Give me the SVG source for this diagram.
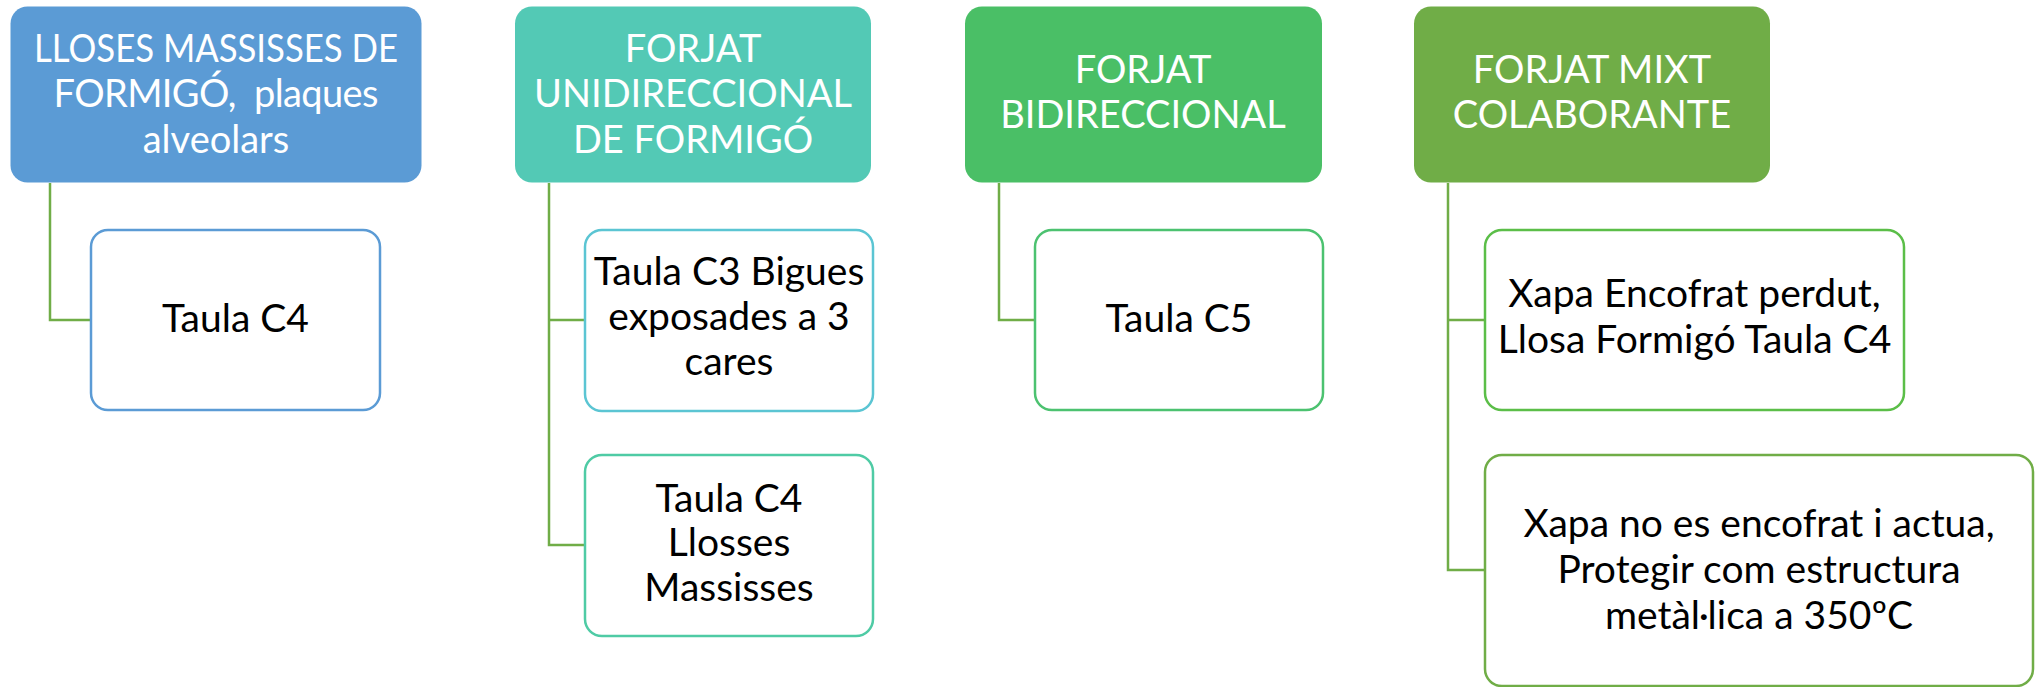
<svg xmlns="http://www.w3.org/2000/svg" width="2036" height="687" viewBox="0 0 2036 687">
<style>
  .hdr { stroke: none; }
  .ht { font-family: Lato, "Open Sans", sans-serif; font-size: 38px; fill: #ffffff; text-anchor: middle; white-space: pre; }
  .ct { font-family: Lato, "Open Sans", sans-serif; font-size: 39px; fill: #000000; text-anchor: middle; white-space: pre; }
  .child { fill: #ffffff; stroke-width: 2.5; }
  .conn { fill: none; stroke: #70AD47; stroke-width: 2.5; }
</style>
<rect width="2036" height="687" fill="#ffffff"/>
<g id="connectors">
  <path class="conn" d="M50,183 V320 H91"/>
  <path class="conn" d="M549,183 V545 H585"/>
  <path class="conn" d="M549,320 H585"/>
  <path class="conn" d="M999,183 V320 H1035"/>
  <path class="conn" d="M1448,183 V570 H1485"/>
  <path class="conn" d="M1448,320 H1485"/>
</g>
<g id="h1">
  <rect class="hdr" x="10.5" y="6.5" width="411" height="176" rx="17" fill="#5B9BD5"/>
  <text class="ht" x="216" y="62" textLength="364" lengthAdjust="spacingAndGlyphs">LLOSES MASSISSES DE</text>
  <text class="ht" x="216" y="107" textLength="325" lengthAdjust="spacing">FORMIGÓ,  plaques</text>
  <text class="ht" x="216" y="153">alveolars</text>
</g>
<g id="h2">
  <rect class="hdr" x="515" y="6.5" width="356" height="176" rx="17" fill="#53C9B5"/>
  <text class="ht" x="693" y="62">FORJAT</text>
  <text class="ht" x="693" y="107">UNIDIRECCIONAL</text>
  <text class="ht" x="693" y="153">DE FORMIGÓ</text>
</g>
<g id="h3">
  <rect class="hdr" x="965" y="6.5" width="357" height="176" rx="17" fill="#4ABF66"/>
  <text class="ht" x="1143" y="83">FORJAT</text>
  <text class="ht" x="1143" y="128">BIDIRECCIONAL</text>
</g>
<g id="h4">
  <rect class="hdr" x="1414" y="6.5" width="356" height="176" rx="17" fill="#70AD47"/>
  <text class="ht" x="1592" y="83">FORJAT MIXT</text>
  <text class="ht" x="1592" y="128">COLABORANTE</text>
</g>
<g id="c1">
  <rect class="child" x="91" y="230" width="289" height="180" rx="17" stroke="#5B9BD5"/>
  <text class="ct" x="235.5" y="332">Taula C4</text>
</g>
<g id="c2a">
  <rect class="child" x="585" y="230" width="288" height="181" rx="17" stroke="#5BC5D3"/>
  <text class="ct" x="729" y="285">Taula C3 Bigues</text>
  <text class="ct" x="729" y="330">exposades a 3</text>
  <text class="ct" x="729" y="375">cares</text>
</g>
<g id="c2b">
  <rect class="child" x="585" y="455" width="288" height="181" rx="17" stroke="#4FCBA5"/>
  <text class="ct" x="729" y="512">Taula C4</text>
  <text class="ct" x="729" y="556">Llosses</text>
  <text class="ct" x="729" y="601">Massisses</text>
</g>
<g id="c3">
  <rect class="child" x="1035" y="230" width="288" height="180" rx="17" stroke="#4CC270"/>
  <text class="ct" x="1179" y="332">Taula C5</text>
</g>
<g id="c4a">
  <rect class="child" x="1485" y="230" width="419" height="180" rx="17" stroke="#5BBE48"/>
  <text class="ct" x="1694.5" y="307">Xapa Encofrat perdut,</text>
  <text class="ct" x="1694.5" y="353">Llosa Formigó Taula C4</text>
</g>
<g id="c4b">
  <rect class="child" x="1485" y="455" width="548" height="231" rx="17" stroke="#70AD47"/>
  <text class="ct" x="1759" y="537">Xapa no es encofrat i actua,</text>
  <text class="ct" x="1759" y="583">Protegir com estructura</text>
  <text class="ct" x="1759" y="629">metàl·lica a 350ºC</text>
</g>
</svg>
